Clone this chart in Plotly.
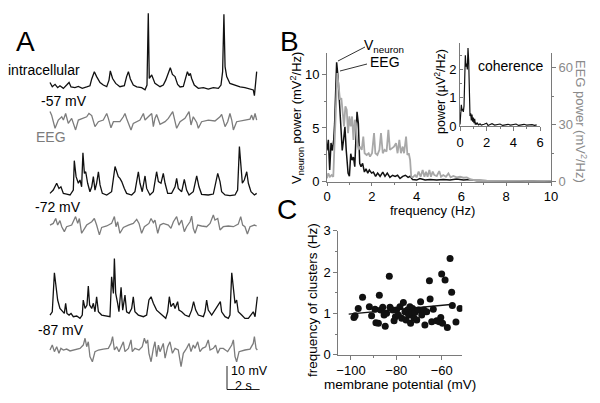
import plotly.graph_objects as go

FONT = "Liberation Sans, Arial, sans-serif"
W, H = 600, 403

# ---------------- Panel A data (time in s, voltage in mV relative to baseline) ----------------
t_cell57 = [0.00,0.14,0.31,0.47,0.61,0.82,1.02,1.17,1.29,1.53,1.74,1.98,2.25,2.45,2.56,2.72,2.86,3.07,3.27,3.48,3.62,3.70,3.84,4.03,4.29,4.56,4.70,4.81,4.93,5.11,5.32,5.62,5.83,5.95,6.03,6.09,6.24,6.44,6.75,6.95,7.10,7.26,7.38,7.51,7.67,7.83,7.98,8.18,8.32,8.43,8.53,8.61,8.69,8.85,9.10,9.41,9.71,10.02,10.33,10.49,10.59,10.67,10.74,10.84,11.04,11.35,11.66,11.96,12.27,12.47,12.54,12.62,12.68]
v_cell57 = [1.8,0,1.0,-0.4,0.4,-0.7,0.7,1.8,-0.1,-0.4,0.1,-0.7,-0.1,0.4,3.3,6.4,4.3,1.8,0.7,0,2.8,6.7,3.5,1.4,0,0.4,4.3,6.4,3.3,0.7,-0.1,-0.4,-1.3,0.7,31.2,3.5,5.0,1.4,0,0.7,2.8,5.7,8.1,5.2,4.3,1.0,-0.1,0.1,3.3,6.4,4.7,5.7,3.5,0.7,-0.7,-0.4,-1.0,-0.4,-0.7,0.7,6.4,30.8,8.5,4.3,1.4,0.7,-0.1,-0.4,-1.0,-1.4,-3.8,3.5,6.4]

t_eeg57 = [0.00,0.10,0.31,0.51,0.72,0.82,0.96,1.12,1.33,1.57,1.74,2.04,2.25,2.39,2.56,2.76,2.97,3.27,3.48,3.58,3.74,3.89,4.29,4.50,4.60,4.70,4.97,5.11,5.52,5.73,5.83,6.03,6.24,6.34,6.44,6.54,6.75,7.06,7.26,7.53,7.67,7.77,7.98,8.28,8.53,8.65,8.79,9.00,9.10,9.30,9.71,10.12,10.43,10.53,10.74,10.90,11.04,11.15,11.25,11.45,11.96,12.27,12.37,12.47,12.58,12.68]
v_eeg57 = [4.3,2.8,-2.8,0.7,2.1,0.7,3.5,-0.7,1.4,-3.5,0.7,1.4,2.1,3.5,2.6,-2.1,0,0.7,3.5,1.4,-2.6,0,0,2.1,3.5,1.4,-3.5,-0.7,0.7,3.5,0.7,2.1,3.5,-2.1,1.4,3.1,-1.1,0,1.4,4.3,-0.7,-2.8,0,1.4,4.3,-1.4,2.1,-0.3,-2.8,0,0.7,0.3,2.1,3.1,-2.1,0,3.5,0.7,-3.5,0,0.7,1.1,2.8,0.7,3.5,0.7]

t_cell72 = [0.00,0.20,0.41,0.55,0.67,0.82,1.02,1.23,1.43,1.49,1.60,1.74,1.84,1.94,2.02,2.11,2.19,2.31,2.45,2.56,2.66,2.76,2.86,2.97,3.07,3.21,3.48,3.78,3.99,4.09,4.19,4.29,4.40,4.56,4.70,5.01,5.21,5.42,5.52,5.66,5.83,5.93,6.13,6.34,6.54,6.65,6.81,6.95,7.06,7.22,7.46,7.67,7.77,7.87,8.08,8.24,8.38,8.53,8.79,9.00,9.14,9.30,9.71,10.02,10.16,10.29,10.43,10.53,10.74,11.04,11.35,11.51,11.62,11.72,11.80,11.92,12.07,12.17,12.33,12.54,12.68]
v_cell72 = [0.7,2.1,5.0,2.8,3.5,0.7,0.4,0,2.1,14.6,7.8,5.0,6.4,3.5,18.0,9.2,9.9,5.0,1.4,3.5,7.8,2.1,5.0,9.9,4.3,0.7,0,1.4,12.1,9.9,7.8,7.1,5.7,2.8,0.7,0,1.4,9.9,5.0,1.4,8.1,2.8,0,1.4,9.9,5.7,5.0,9.2,5.0,0.7,0.7,3.5,7.1,2.8,1.4,6.7,2.1,0,1.4,8.1,3.5,0.3,0,0.4,5.0,9.2,5.7,1.4,0,-0.3,0,2.1,20.6,9.2,5.0,6.4,9.9,5.0,1.4,0,0.7]

t_eeg72 = [0.00,0.20,0.35,0.47,0.61,0.72,0.88,1.02,1.33,1.57,1.70,1.80,1.94,2.11,2.25,2.56,2.72,2.86,3.03,3.17,3.48,3.78,3.95,4.05,4.15,4.29,4.50,4.81,5.11,5.32,5.46,5.62,5.79,6.07,6.20,6.34,6.44,6.61,6.75,6.95,7.26,7.42,7.57,7.77,7.91,8.08,8.24,8.38,8.59,8.69,8.79,8.90,9.06,9.30,9.61,9.82,10.02,10.12,10.29,10.43,10.63,10.94,11.25,11.55,11.70,11.82,11.96,12.11,12.27,12.54,12.68]
v_eeg72 = [0.7,1.4,3.5,0.7,2.6,0,-2.1,0,0.7,4.3,1.4,3.5,-2.8,-0.7,0.7,2.1,3.5,0.7,-3.5,-0.3,0.3,1.4,4.3,0,2.1,-2.8,-0.3,0.7,1.4,3.1,1.4,-2.8,0,1.4,3.5,1.7,2.8,-2.8,0.7,1.4,0.7,-0.7,2.1,4.3,0.7,2.8,-2.1,0,2.1,4.5,-0.7,-2.8,0.7,0.3,0,1.4,5.0,2.8,3.5,-1.4,0,0.3,0,1.1,4.3,0.7,0,-3.1,0,0.7,0.3]

t_cell87 = [0.00,0.14,0.27,0.37,0.47,0.61,0.76,0.88,0.96,1.04,1.17,1.29,1.43,1.64,1.84,1.98,2.04,2.15,2.27,2.35,2.43,2.56,2.66,2.76,2.86,2.97,3.17,3.48,3.68,3.78,3.89,3.95,4.03,4.15,4.23,4.36,4.46,4.60,4.70,4.85,5.01,5.11,5.21,5.42,5.73,5.93,6.07,6.20,6.34,6.54,6.75,6.95,7.10,7.22,7.32,7.42,7.57,7.67,7.83,7.91,8.08,8.28,8.53,8.69,8.81,8.94,9.10,9.41,9.51,9.61,9.71,9.92,10.12,10.33,10.45,10.53,10.74,10.94,11.04,11.15,11.25,11.35,11.45,11.55,11.76,11.96,12.17,12.33,12.47,12.58,12.72]
v_cell87 = [0.7,2.1,18.7,11.3,7.1,3.5,2.1,1.4,5.7,1.4,0.7,1.4,0,0.3,-0.7,0.7,7.1,3.5,5.0,13.0,5.0,3.5,5.7,2.1,8.5,2.1,0.7,0.3,0,17.0,9.9,24.8,9.9,5.7,2.1,12.5,2.8,9.2,2.1,1.4,3.5,8.5,2.1,0.7,0,0.7,7.1,8.5,5.7,2.8,1.4,0,-0.7,2.1,8.5,4.3,5.7,3.5,6.4,2.8,2.1,0.7,0,2.8,6.4,2.8,0.7,0,2.1,7.1,2.8,0.7,2.8,5.0,6.4,2.1,0,-0.7,0.7,18.7,11.3,5.7,7.1,2.1,0.7,-0.7,-0.7,0.7,2.1,0,8.5]

t_eeg87 = [0.00,0.14,0.27,0.41,0.55,0.67,0.82,1.02,1.23,1.53,1.84,2.04,2.15,2.25,2.35,2.45,2.60,2.76,2.97,3.27,3.58,3.74,3.84,3.95,4.09,4.23,4.40,4.50,4.60,4.81,4.97,5.05,5.21,5.46,5.66,5.79,5.89,5.99,6.07,6.20,6.34,6.44,6.54,6.65,6.75,6.95,7.06,7.22,7.36,7.51,7.67,7.87,8.04,8.18,8.38,8.53,8.65,8.79,8.90,9.06,9.20,9.35,9.55,9.71,9.82,10.02,10.16,10.29,10.43,10.63,10.90,11.15,11.25,11.35,11.45,11.60,11.96,12.27,12.47,12.54,12.64,12.72]
v_eeg87 = [0,2.1,-0.7,1.4,-1.4,0.7,0,0.4,-0.4,0,0.7,2.1,5.0,1.4,3.5,-2.8,-5.0,-0.7,0,0.4,0.7,2.8,5.7,0,1.4,-0.7,2.1,3.5,-0.7,0.7,4.3,-0.7,0.7,0,1.4,5.0,2.8,4.3,-1.4,-5.0,0.7,3.5,-2.8,2.1,-0.7,2.8,-3.5,1.4,3.5,-1.4,0.7,0,-7.1,-1.4,0.7,2.8,-0.7,2.1,0.7,3.5,-0.7,0.7,1.4,4.3,0,0.7,2.1,-1.4,0.7,0.7,-0.7,2.1,4.3,-2.8,-5.0,-0.7,0,0.4,2.8,5.7,0.7,0]

# ---------------- Panel B data ----------------
f_neuron = [0.00,0.06,0.12,0.18,0.24,0.30,0.34,0.43,0.49,0.55,0.63,0.68,0.74,0.80,0.86,0.94,1.00,1.06,1.12,1.18,1.24,1.29,1.34,1.40,1.46,1.52,1.59,1.67,1.74,1.82,1.89,1.99,2.07,2.17,2.26,2.37,2.49,2.59,2.69,2.81,2.93,3.04,3.15,3.26,3.38,3.50,3.62,3.71,3.82,4.00,4.15,4.38,4.60,4.90,5.19,5.49,5.79,6.09,6.38,6.68,7.13,7.57,8.02,8.62,9.21,10.0]
p_neuron = [2.9,3.9,1.1,3.6,2.9,3.9,5.4,11.1,9.8,7.6,5.1,2.9,3.9,5.1,2.9,0.8,0.5,2.6,2.0,2.3,1.4,4.5,6.5,5.4,1.7,1.4,1.7,0.9,1.2,0.8,1.1,0.8,0.9,0.5,0.8,0.5,0.9,0.5,0.8,0.4,0.6,0.5,0.6,0.3,0.5,0.6,0.4,0.5,0.2,0.15,0.3,0.15,0.2,0.15,0.2,0.15,0.25,0.15,0.2,0.1,0.1,0.05,0.1,0.03,0.05,0.03]

f_eeg = [0.00,0.06,0.13,0.21,0.28,0.34,0.40,0.46,0.52,0.58,0.64,0.70,0.76,0.82,0.88,0.94,1.00,1.06,1.12,1.18,1.24,1.29,1.35,1.41,1.47,1.55,1.62,1.68,1.77,1.86,1.92,2.01,2.10,2.16,2.25,2.34,2.41,2.49,2.57,2.66,2.74,2.81,2.90,2.99,3.08,3.15,3.23,3.30,3.38,3.44,3.53,3.59,3.65,3.71,3.76,3.82,3.93,4.00,4.09,4.18,4.27,4.35,4.42,4.49,4.57,4.64,4.72,4.79,4.90,5.01,5.09,5.19,5.31,5.42,5.52,5.64,5.79,5.94,6.09,6.24,6.38,6.53,6.83,7.13,7.57,8.02,8.62,9.21,10.0]
p_eeg = [1.8,4.4,2.6,3.5,2.6,22.0,48.5,57.3,50.3,43.2,44.1,36.2,29.1,39.7,37.9,25.6,34.4,29.1,34.4,22.0,32.6,30.9,20.3,16.8,18.5,16.8,23.8,15.0,14.1,15.0,13.2,15.0,25.6,15.0,14.1,16.8,25.6,15.0,16.8,15.9,27.3,16.8,17.6,18.5,20.3,15.0,22.0,15.0,18.5,15.0,23.8,14.1,15.0,11.5,2.6,2.3,3.5,2.3,5.3,2.6,6.2,2.6,5.3,2.6,6.2,2.6,5.3,3.5,3.0,5.6,2.6,3.5,2.6,4.4,2.3,3.0,2.3,2.6,2.1,2.3,1.4,0.9,0.9,0.5,0.4,0.5,0.4,0.2,0.4]

f_coh = [0.00,0.05,0.10,0.15,0.20,0.25,0.30,0.35,0.40,0.45,0.50,0.55,0.60,0.65,0.70,0.75,0.80,0.85,0.90,0.95,1.00,1.05,1.10,1.15,1.20,1.25,1.30,1.40,1.50,1.60,1.80,2.00,2.10,2.40,2.60,3.00,3.20,3.60,3.80,4.20,4.40,4.80,5.00,5.40,5.60,5.75]
p_coh = [0.05,0.60,0.75,0.55,0.60,0.50,0.70,1.60,2.50,2.10,2.20,2.00,2.75,2.30,0.60,0.35,0.45,0.20,0.40,0.15,0.30,0.10,0.25,0.05,0.12,0.05,0.10,0.04,0.08,0.03,0.06,0.10,0.02,0.08,0.03,0.07,0.02,0.06,0.03,0.07,0.02,0.06,0.03,0.05,0.02,0.04]

# ---------------- Panel C data ----------------
vm = [-98.7,-98.2,-96.8,-94.9,-91.9,-90.9,-89.4,-89.0,-87.9,-87.5,-86.9,-86.0,-85.4,-84.9,-84.3,-83.1,-82.8,-81.6,-81.0,-80.4,-79.9,-79.1,-78.4,-77.6,-76.9,-76.2,-75.7,-75.1,-74.6,-74.0,-73.7,-73.2,-72.8,-72.2,-71.8,-71.0,-70.3,-69.3,-68.8,-67.8,-67.4,-66.6,-65.4,-65.1,-64.4,-63.7,-62.2,-61.0,-60.4,-60.0,-59.6,-58.5,-57.5,-56.3,-55.6,-55.3,-53.7,-51.9]
fc = [0.90,0.94,1.12,1.39,1.16,0.94,1.10,0.77,0.76,1.44,1.08,1.15,0.96,0.69,1.00,1.90,1.15,1.08,0.82,0.92,1.08,0.96,1.16,0.88,1.26,1.04,0.84,1.08,0.96,1.16,0.76,1.00,1.12,0.88,1.02,0.84,1.08,1.28,0.96,1.08,0.72,1.04,1.79,1.35,0.80,1.10,0.82,0.80,0.90,1.95,0.76,1.81,0.66,2.33,1.51,1.19,0.79,1.12]
fit_vm = [-101.0, -54.9]
fit_fc = [0.98, 1.22]

# ---------------- layout helpers ----------------
def px(x):
    return x / W

def py(y):
    return 1 - y / H

A_MV_PX = 2.35      # pixels per mV in panel A
A_S_PX = 16.3       # pixels per second in panel A
A_T0 = 50           # pixel x of t = 0

def base(ypix):
    return (H - ypix) / A_MV_PX

offsets = {"c57": base(86.7), "e57": base(121.7), "c72": base(195.0),
           "e72": base(226.7), "c87": base(316.7), "e87": base(350.0)}

BLACK = "#111111"
GREY = "#7c7c7c"
LGREY = "#a8a8a8"
AX = "#7a7a7a"

fig = go.Figure()

def add_a(t, v, key, color):
    fig.add_trace(go.Scatter(x=t, y=[val + offsets[key] for val in v], mode="lines",
                             line=dict(color=color, width=1.3), xaxis="x", yaxis="y",
                             showlegend=False, hoverinfo="skip"))

add_a(t_cell57, v_cell57, "c57", BLACK)
add_a(t_eeg57, v_eeg57, "e57", GREY)
add_a(t_cell72, v_cell72, "c72", BLACK)
add_a(t_eeg72, v_eeg72, "e72", GREY)
add_a(t_cell87, v_cell87, "c87", BLACK)
add_a(t_eeg87, v_eeg87, "e87", GREY)

# Panel B
fig.add_trace(go.Scatter(x=f_eeg, y=p_eeg, mode="lines", line=dict(color=LGREY, width=1.8),
                         xaxis="x2", yaxis="y3", showlegend=False))
fig.add_trace(go.Scatter(x=f_neuron, y=p_neuron, mode="lines", line=dict(color=BLACK, width=1.5),
                         xaxis="x2", yaxis="y2", showlegend=False))
fig.add_trace(go.Scatter(x=f_coh, y=p_coh, mode="lines", line=dict(color=BLACK, width=1.2),
                         xaxis="x4", yaxis="y4", showlegend=False))

# Panel C
fig.add_trace(go.Scatter(x=vm, y=fc, mode="markers", marker=dict(color=BLACK, size=7),
                         xaxis="x5", yaxis="y5", showlegend=False))
fig.add_trace(go.Scatter(x=fit_vm, y=fit_fc, mode="lines", line=dict(color=BLACK, width=1.3),
                         xaxis="x5", yaxis="y5", showlegend=False))

tickfont = dict(family=FONT, size=13, color="black")

def axstyle(**kw):
    d = dict(showline=True, linecolor=AX, linewidth=1, ticks="outside", ticklen=4,
             tickcolor=AX, tickfont=tickfont, showgrid=False, zeroline=False, fixedrange=True,
             automargin=False)
    d.update(kw)
    return d

fig.update_layout(
    width=W, height=H, margin=dict(l=0, r=0, t=0, b=0, pad=0, autoexpand=False),
    paper_bgcolor="white", plot_bgcolor="rgba(0,0,0,0)",
    font=dict(family=FONT, size=13, color="black"),
    xaxis=dict(domain=[0, 0.5], range=[-A_T0 / A_S_PX, (300 - A_T0) / A_S_PX], visible=False),
    yaxis=dict(domain=[0, 1], range=[0, H / A_MV_PX], visible=False),
    xaxis2=axstyle(domain=[px(327), px(551)], range=[0, 10], anchor="y2", dtick=2, ticklen=3,
                   minor=dict(dtick=1, ticklen=2, tickcolor=AX, ticks="outside")),
    yaxis2=axstyle(domain=[py(181.7), py(52.7)], range=[0, 12], anchor="x2",
                   tickvals=[0, 5, 10],
                   minor=dict(dtick=2.5, ticklen=2, tickcolor=AX, ticks="outside")),
    yaxis3=axstyle(overlaying="y2", side="right", anchor="x2", range=[0, 68],
                   tickvals=[0, 30, 60], tickfont=dict(family=FONT, size=13, color="#8a8a8a"),
                   minor=dict(dtick=15, ticklen=2, tickcolor=AX, ticks="outside")),
    xaxis4=axstyle(domain=[px(460), px(540)], range=[0, 6], anchor="y4", dtick=2,
                   minor=dict(dtick=1, ticklen=2, tickcolor=AX, ticks="outside")),
    yaxis4=axstyle(domain=[py(126), py(43.3)], range=[0, 2.92], anchor="x4", dtick=1,
                   ticks="inside", ticklen=3,
                   minor=dict(dtick=0.5, ticklen=2, tickcolor=AX, ticks="inside")),
    xaxis5=axstyle(domain=[px(338.3), px(462.3)], range=[-105.6, -50.9], anchor="y5",
                   tickvals=[-100, -80, -60],
                   minor=dict(dtick=10, ticklen=2, tickcolor=AX, ticks="outside")),
    yaxis5=axstyle(domain=[py(354.7), py(230.7)], range=[0, 3], anchor="x5", dtick=1,
                   minor=dict(dtick=0.5, ticklen=2, tickcolor=AX, ticks="outside")),
)

ann = []

def text(x, y, s, size=13, color="black", angle=0, xanchor="center", yanchor="middle"):
    ann.append(dict(x=px(x), y=py(y), xref="paper", yref="paper", text=s, showarrow=False,
                    font=dict(family=FONT, size=size, color=color), textangle=angle,
                    xanchor=xanchor, yanchor=yanchor))

# panel letters
text(25, 42, "A", size=28)
text(289, 42, "B", size=28)
text(287, 209, "C", size=28)

# panel A labels
text(44, 70, "intracellular", size=14)
text(64, 101, "-57 mV", size=14)
text(51, 137, "EEG", size=14, color=GREY)
text(58, 207, "-72 mV", size=14)
text(61, 330, "-87 mV", size=14)
text(229, 371, "10 mV", size=12.5, xanchor="left")
text(233, 385.5, "2 s", size=12.5, xanchor="left")

# panel B labels
text(297, 118, "V<sub>neuron</sub> power (mV<sup>2</sup>/Hz)", size=13, angle=-90)
text(581, 121, "EEG power (mV<sup>2</sup>/Hz)", size=13, angle=90, color="#8a8a8a")
text(432, 210, "frequency (Hz)", size=13)
text(362, 46, "V<sub>neuron</sub>", size=14, xanchor="left")
text(368, 62, "EEG", size=14, xanchor="left")
text(440, 91, "power (\u00b5V<sup>2</sup>/Hz)", size=12.5, angle=-90)
text(511, 66, "coherence", size=14)

# panel C labels
text(312, 300, "frequency of clusters (Hz)", size=13.5, angle=-90)
text(400, 384, "membrane potential (mV)", size=13.5)

fig.update_layout(annotations=ann)

# pointer lines (panel B) and scale bar (panel A)
sb_t = (227 - A_T0) / A_S_PX
sb_v = (H - 389.5) / A_MV_PX
shapes = [
    dict(type="line", xref="paper", yref="paper", x0=px(338), y0=py(61), x1=px(365), y1=py(47),
         line=dict(color="#333333", width=1)),
    dict(type="line", xref="paper", yref="paper", x0=px(340), y0=py(71), x1=px(367), y1=py(64),
         line=dict(color="#333333", width=1)),
    dict(type="line", xref="x", yref="y", x0=sb_t, y0=sb_v, x1=sb_t, y1=sb_v + 10,
         line=dict(color="#222222", width=1)),
    dict(type="line", xref="x", yref="y", x0=sb_t, y0=sb_v, x1=sb_t + 2, y1=sb_v,
         line=dict(color="#222222", width=1)),
]
fig.update_layout(shapes=shapes)

fig.write_html("out.html", config={"displayModeBar": False},
               post_script="document.body.style.margin='0px';document.body.style.padding='0px';")
